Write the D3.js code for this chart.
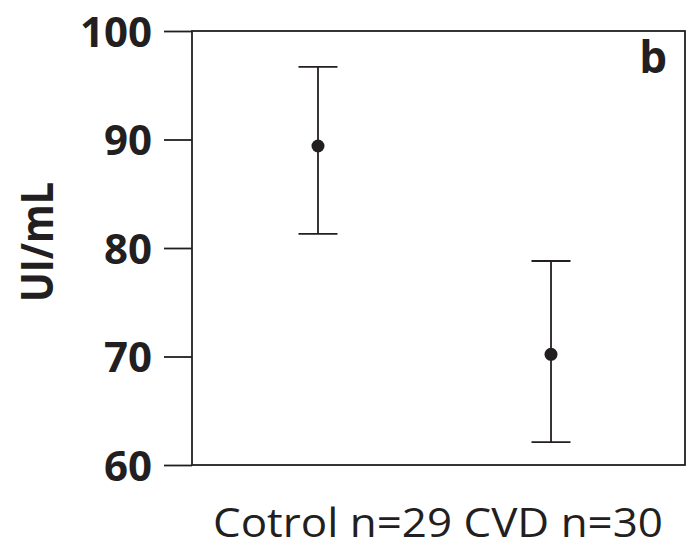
<!DOCTYPE html>
<html><head><meta charset="utf-8">
<script src="https://cdn.jsdelivr.net/npm/d3@7"></script>
<style>html,body{margin:0;padding:0;background:#fff;}</style>
</head><body>
<script>
const groups = ["Cotrol", "CVD"];
const means = [89.4, 70.2];
const upper = [96.7, 78.8];
const lower = [81.3, 62.1];
const yTicks = [60, 70, 80, 90, 100];
const xLabel = "Cotrol n=29 CVD n=30";
const yLabel = "UI/mL";
const panel = "b";

const W = 689, H = 549;
const m = {left: 192, right: 4, top: 31, bottom: 84};
const ink = "#231f20";
const font = "'Open Sans', sans-serif";
const svg = d3.select("body").append("svg").attr("width", W).attr("height", H);

const x = d3.scalePoint().domain(groups).range([m.left - 8, W - m.right]).padding(0.575);
const y = d3.scaleLinear().domain([60, 100]).range([H - m.bottom, m.top]);

svg.append("rect").attr("x", m.left).attr("y", m.top)
  .attr("width", W - m.right - m.left).attr("height", H - m.bottom - m.top)
  .attr("fill", "none").attr("stroke", ink).attr("stroke-width", 1.8);

const yAxis = svg.append("g").attr("transform", `translate(${m.left},0)`)
  .call(d3.axisLeft(y).tickValues(yTicks).tickSize(28).tickPadding(12).tickFormat(d3.format("d")));
yAxis.select(".domain").remove();
yAxis.selectAll("line").attr("stroke", ink).attr("stroke-width", 1.8);
yAxis.selectAll("text").attr("fill", ink).attr("dy", "0.36em")
  .style("font-family", font).style("font-weight", 700).style("font-size", "42px");

const capW = 39;
const g = svg.append("g");
groups.forEach((c, i) => {
  const cx = x(c);
  g.append("line").attr("x1", cx).attr("x2", cx).attr("y1", y(upper[i])).attr("y2", y(lower[i]))
    .attr("stroke", ink).attr("stroke-width", 1.8);
  [upper[i], lower[i]].forEach(v => {
    g.append("line").attr("x1", cx - capW/2).attr("x2", cx + capW/2).attr("y1", y(v)).attr("y2", y(v))
      .attr("stroke", ink).attr("stroke-width", 1.8);
  });
  g.append("circle").attr("cx", cx).attr("cy", y(means[i])).attr("r", 6.5).attr("fill", ink);
});

svg.append("text").attr("x", 667).attr("y", 73).attr("text-anchor", "end")
  .attr("fill", ink).style("font-family", font).style("font-weight", 700)
  .style("font-size", "44px").text(panel);

svg.append("text").attr("transform", `translate(53,242) rotate(-90)`)
  .attr("text-anchor", "middle").attr("fill", ink)
  .attr("textLength", 120).attr("lengthAdjust", "spacingAndGlyphs")
  .style("font-family", font).style("font-weight", 700).style("font-size", "44px")
  .text(yLabel);

svg.append("text").attr("x", 438).attr("y", 537).attr("text-anchor", "middle")
  .attr("fill", ink).attr("textLength", 450).attr("lengthAdjust", "spacingAndGlyphs")
  .style("font-family", font).style("font-size", "40px")
  .text(xLabel);
</script>
</body></html>
